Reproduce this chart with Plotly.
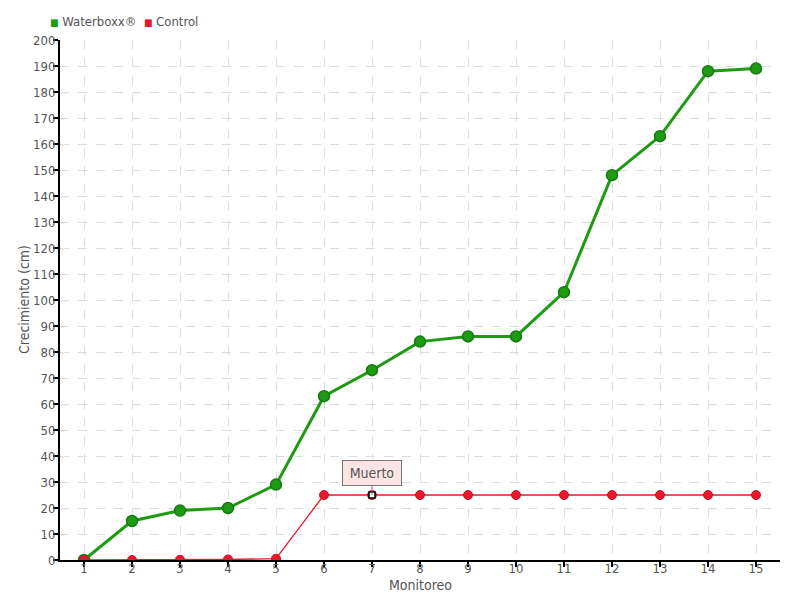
import plotly.graph_objects as go

monitoreo = list(range(1, 16))
waterboxx = [0, 15, 19, 20, 29, 63, 73, 84, 86, 86, 103, 148, 163, 188, 189]
control = [0, 0, 0.1, 0.2, 0.5, 25, 25, 25, 25, 25, 25, 25, 25, 25, 25]
series_names = ["Waterboxx®", "Control"]
x_title = "Monitoreo"
y_title = "Crecimiento (cm)"
note_index = 6
note_text = "Muerto"

GREEN = "#1f9a13"
RED = "#e8172b"
FONT = "DejaVu Sans Condensed"
TXT = "#555555"

fig = go.Figure()

fig.add_trace(go.Scatter(
    x=monitoreo, y=waterboxx, mode="lines+markers", name=series_names[0], showlegend=False,
    line=dict(color=GREEN, width=3),
    marker=dict(size=11, color=GREEN, line=dict(color="#177a10", width=1.5)),
))
fig.add_trace(go.Scatter(
    x=monitoreo, y=control, mode="lines+markers", name=series_names[1], showlegend=False,
    line=dict(color=RED, width=1.3),
    marker=dict(size=9, color=RED, line=dict(color="#d0102a", width=1)),
))
fig.add_trace(go.Scatter(
    x=[monitoreo[note_index]], y=[control[note_index]], mode="markers",
    showlegend=False,
    marker=dict(symbol="square", size=6, color="white", line=dict(color="black", width=1.5)),
))

# compact legend (as in the reference)
legend_html = (
    f'<span style="color:{GREEN};font-size:10px">■</span> {series_names[0]}'
    f'  <span style="color:{RED};font-size:10px">■</span> {series_names[1]}'
)
fig.add_annotation(
    xref="paper", yref="paper", x=-12 / 720, y=1 + 18 / 520,
    xanchor="left", yanchor="middle", showarrow=False, text=legend_html,
    font=dict(family=FONT, size=13, color=TXT),
)

# axis titles
fig.add_annotation(
    xref="paper", yref="paper", x=0.5, y=-25 / 520, xanchor="center", yanchor="middle",
    showarrow=False, text=x_title, font=dict(family=FONT, size=14, color=TXT),
)
fig.add_annotation(
    xref="paper", yref="paper", x=-36 / 720, y=0.5, xanchor="center", yanchor="middle",
    textangle=-90, showarrow=False, text=y_title, font=dict(family=FONT, size=14, color=TXT),
)

fig.add_annotation(
    x=monitoreo[note_index], y=control[note_index], text=note_text,
    showarrow=True, arrowhead=0, arrowwidth=1, arrowcolor="#777",
    ax=0, ay=-22, width=58, height=24,
    bgcolor="#fde4e4", bordercolor="#777", borderwidth=1, borderpad=0,
    font=dict(family=FONT, size=14, color=TXT),
)

fig.update_layout(
    width=800, height=600,
    margin=dict(l=60, r=20, t=40, b=40, autoexpand=False),
    plot_bgcolor="white", paper_bgcolor="white",
    font=dict(family=FONT, size=14, color=TXT),
    showlegend=False,
    hovermode=False,
)
fig.update_xaxes(
    range=[0.5, 15.5], tickmode="array", tickvals=monitoreo, ticktext=[str(v) for v in monitoreo],
    showline=True, linecolor="black", linewidth=2,
    ticks="outside", ticklen=5, tickcolor="black", tickwidth=1.5,
    ticklabelstandoff=-10,
    showgrid=True, gridcolor="#dddddd", griddash="dash", gridwidth=1,
    zeroline=False, automargin=False,
    tickfont=dict(family=FONT, size=13, color=TXT),
)
fig.update_yaxes(
    range=[0, 200], dtick=10, tick0=0,
    showline=True, linecolor="black", linewidth=2,
    ticks="outside", ticklen=5, tickcolor="black", tickwidth=1.5,
    ticklabelstandoff=-5,
    showgrid=True, gridcolor="#dddddd", griddash="dash", gridwidth=1,
    zeroline=False, automargin=False,
    tickfont=dict(family=FONT, size=13, color=TXT),
)

fig.write_html("out.html", config={"displayModeBar": False},
               post_script="document.body.style.margin='0';")
